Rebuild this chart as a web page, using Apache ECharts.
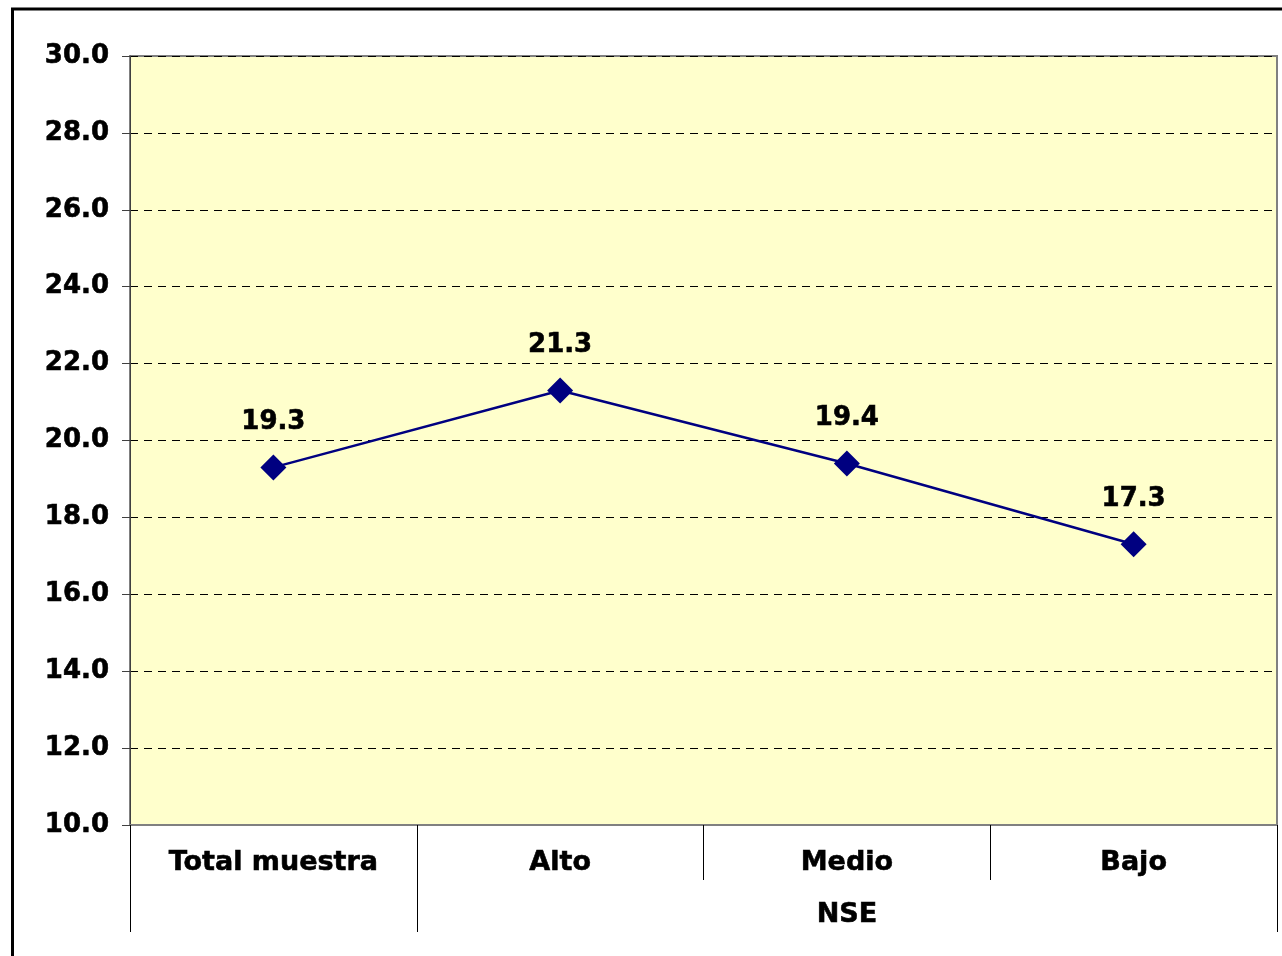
<!DOCTYPE html>
<html>
<head>
<meta charset="utf-8">
<script src="https://cdn.jsdelivr.net/npm/echarts@6/dist/echarts.min.js"></script>
<style>
  html, body { margin: 0; padding: 0; background: #ffffff; }
  #chart { width: 1282px; height: 956px; }
</style>
</head>
<body>
<div id="chart"></div>
<script>
// categorias del eje X (nivel 1 y nivel 2)
var categorias = ['Total muestra', 'Alto', 'Medio', 'Bajo'];
var grupos = ['', '', 'NSE', ''];
// valores de la serie
var valores = [19.3, 21.3, 19.4, 17.3];
// eje Y
var yMin = 10;
var yMax = 30;
var yPaso = 2;

var FUENTE = 'DejaVu Sans, Verdana, sans-serif';
var TAM = 26;

//estilo de texto comun (negrita gruesa tipo Verdana)
function texto(extra) {
  var t = {
    color: '#000000',
    fontFamily: FUENTE,
    fontWeight: 'bold',
    fontSize: TAM,
    textBorderColor: '#000000',
    textBorderWidth: 0.6
  };
  for (var k in extra) { t[k] = extra[k]; }
  return t;
}

var chart = echarts.init(document.getElementById('chart'));

var option = {
  backgroundColor: '#ffffff',
  animation: false,
  //marco exterior
  graphic: [{
    type: 'rect',
    shape: { x: 12.5, y: 9, width: 1320, height: 1000 },
    style: { fill: 'none', stroke: '#000000', lineWidth: 3 },
    silent: true
  }],
  grid: {
    left: 130,
    top: 56,
    right: 5,
    bottom: 131,
    show: true,
    backgroundColor: '#FFFFCC',
    borderColor: '#808080',
    borderWidth: 2
  },
  xAxis: [{
    type: 'category',
    data: categorias,
    position: 'bottom',
    boundaryGap: true,
    axisLine: { show: true, lineStyle: { color: '#808080', width: 2 } },
    axisTick: { show: true, interval: 0, length: 55, lineStyle: { color: '#000000', width: 1 } },
    axisLabel: texto({ interval: 0, margin: 24, fontSize: 27 })
  }, {
    //segundo nivel (NSE)
    type: 'category',
    data: grupos,
    position: 'bottom',
    boundaryGap: true,
    axisLine: { show: false },
    axisTick: {
      show: true,
      length: 107,
      interval: function (index) { return index === 0 || index === 1; },
      lineStyle: { color: '#000000', width: 1 }
    },
    axisLabel: texto({ interval: 0, margin: 76, fontSize: 27 })
  }],
  yAxis: {
    type: 'value',
    min: yMin,
    max: yMax,
    interval: yPaso,
    axisLine: { show: true, lineStyle: { color: '#404040', width: 1 } },
    axisTick: { show: true, length: 8, lineStyle: { color: '#404040' } },
    axisLabel: texto({
      margin: 21,
      formatter: function (v) { return v.toFixed(1); }
    }),
    splitLine: { show: true, lineStyle: { color: '#000000', type: [8, 6], width: 1 } }
  },
  series: [{
    type: 'line',
    xAxisIndex: 0,
    data: valores,
    symbol: 'diamond',
    symbolSize: 26,
    lineStyle: { color: '#000080', width: 2.5 },
    itemStyle: { color: '#000080' },
    label: texto({
      show: true,
      position: 'top',
      distance: 19,
      formatter: function (p) { return p.value.toFixed(1); }
    })
  }]
};

chart.setOption(option);
</script>
</body>
</html>
